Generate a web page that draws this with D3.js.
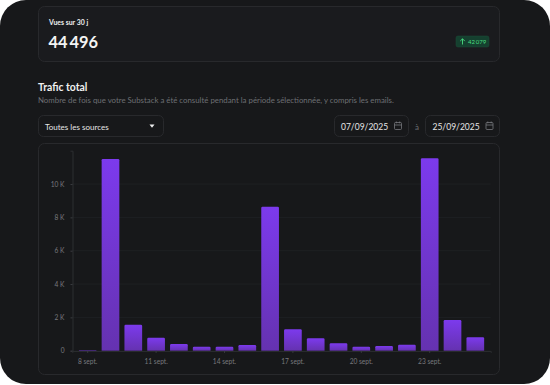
<!DOCTYPE html>
<html lang="fr"><head><meta charset="utf-8">
<script src="https://cdn.jsdelivr.net/npm/d3@7/dist/d3.min.js"></script>
<style>html,body{margin:0;padding:0;background:#fff;overflow:hidden}svg{display:block}text{font-family:Lato,"Open Sans",sans-serif}</style>
</head><body><div id="c"></div>
<script>
const days = [8,9,10,11,12,13,14,15,16,17,18,19,20,21,22,23,24,25];
const views = [20,11500,1560,780,400,240,240,340,8640,1280,740,440,240,280,360,11540,1840,800];
const yTicks = [0,2000,4000,6000,8000,10000];
const xTicks = [8,11,14,17,20,23];

const W=550,H=385;
const svg=d3.select('#c').append('svg').attr('width',W).attr('height',H);
const defs=svg.append('defs');
const g=defs.append('linearGradient').attr('id','bar').attr('x1',0).attr('x2',0).attr('y1',0).attr('y2',1);
g.append('stop').attr('offset','0%').attr('stop-color','#7c3aed');
g.append('stop').attr('offset','100%').attr('stop-color','#6532b0');
const bg='#17181a', border='#28292c';
svg.append('rect').attr('width',W).attr('height',H-1).attr('rx',26).attr('fill',bg);

function box(x,y,w,h,r,fill){return svg.append('rect').attr('x',x).attr('y',y).attr('width',w).attr('height',h).attr('rx',r).attr('fill',fill||'none').attr('stroke',border);}
function text(x,y,s,size,fill,weight,anchor){return svg.append('text').attr('x',x).attr('y',y).text(s).attr('font-size',size).attr('fill',fill).attr('font-weight',weight||400).attr('text-anchor',anchor||'start');}

box(38.5,6.5,461,55,6,'#1a1b1e');
text(49,24.5,'Vues sur 30 j',6.9,'#eeeeee',700);
text(48.5,48,'44\u2009496',16.4,'#f4f4f4',700);
svg.append('rect').attr('x',456).attr('y',36).attr('width',33).attr('height',11).attr('rx',2).attr('fill','#15402f').attr('stroke','#1d4f3a').attr('stroke-width',.5);
svg.append('path').attr('d','M462.5 44.5V38.8M460.2 41.1L462.5 38.8L464.8 41.1').attr('fill','none').attr('stroke','#4ade80').attr('stroke-width',.9);
text(468,44,'42\u2009079',6,'#4ade80');

text(38,90.5,'Trafic total',10.4,'#f0f0f0',700);
text(38,103,'Nombre de fois que votre Substack a été consulté pendant la période sélectionnée, y compris les emails.',7.85,'#6d6f73');

box(38.5,115.5,125,21,5);
text(45,130,'Toutes les sources',8,'#e6e6e6');
svg.append('path').attr('d','M149.5 124.5h5l-2.5 3.2z').attr('fill','#eee');

box(334.5,115.5,74,21,5);
text(341,130,'07/09/2025',8.5,'#e6e6e6');
box(425.5,115.5,74,21,5);
text(432.5,130,'25/09/2025',8.5,'#e6e6e6');
text(417,130,'à',8,'#6d6f73',400,'middle');
[398,489.5].forEach(x=>{
  const c=svg.append('g').attr('transform',`translate(${x},126)`).attr('fill','none').attr('stroke','#77797d').attr('stroke-width',.8);
  c.append('rect').attr('x',-3.5).attr('y',-3.5).attr('width',7).attr('height',7).attr('rx',1);
  c.append('path').attr('d','M-3.5 -1H3.5M-1.7 -4.5V-2.7M1.7 -4.5V-2.7');
});

box(38.5,143.5,461,231,6,'#17181a');

const x=d3.scaleBand().domain(days).range([72.3,490.7]).paddingInner(.224).paddingOuter(.287);
const y=d3.scaleLinear().domain([0,12000]).range([350.7,150.7]);
const fmtY=v=>v===0?'0':`${v/1000} K`;

svg.append('g').selectAll('line').data(yTicks.slice(1)).join('line')
  .attr('x1',72.3).attr('x2',490.7).attr('y1',d=>y(d)).attr('y2',d=>y(d))
  .attr('stroke','#1e2023').attr('stroke-width',1);

const gy=svg.append('g').attr('transform','translate(72.5,0)').call(d3.axisLeft(y).tickValues(yTicks).tickFormat(fmtY).tickSize(2).tickPadding(6));
gy.select('.domain').attr('stroke','#2c2e31');
gy.selectAll('.tick line').attr('stroke','#3a3c40');
gy.selectAll('text').attr('font-size',6.6).attr('fill','#77797d');

svg.append('g').selectAll('path').data(days).join('path')
  .attr('fill','url(#bar)')
  .attr('d',d=>{
    const x0=x(d),w=x.bandwidth(),yt=y(views[days.indexOf(d)]),yb=y(0),r=Math.min(1.2,(yb-yt));
    return `M${x0} ${yb}V${yt+r}Q${x0} ${yt} ${x0+r} ${yt}H${x0+w-r}Q${x0+w} ${yt} ${x0+w} ${yt+r}V${yb}Z`;
  });

const gx=svg.append('g').attr('transform','translate(0,350.9)').call(d3.axisBottom(x).tickValues(xTicks).tickFormat(d=>`${d} sept.`).tickSize(2).tickPadding(6));
gx.select('.domain').attr('stroke','#2c2e31');
gx.selectAll('.tick line').attr('stroke','#3a3c40');
gx.selectAll('text').attr('font-size',6.6).attr('fill','#77797d');
</script></body></html>
